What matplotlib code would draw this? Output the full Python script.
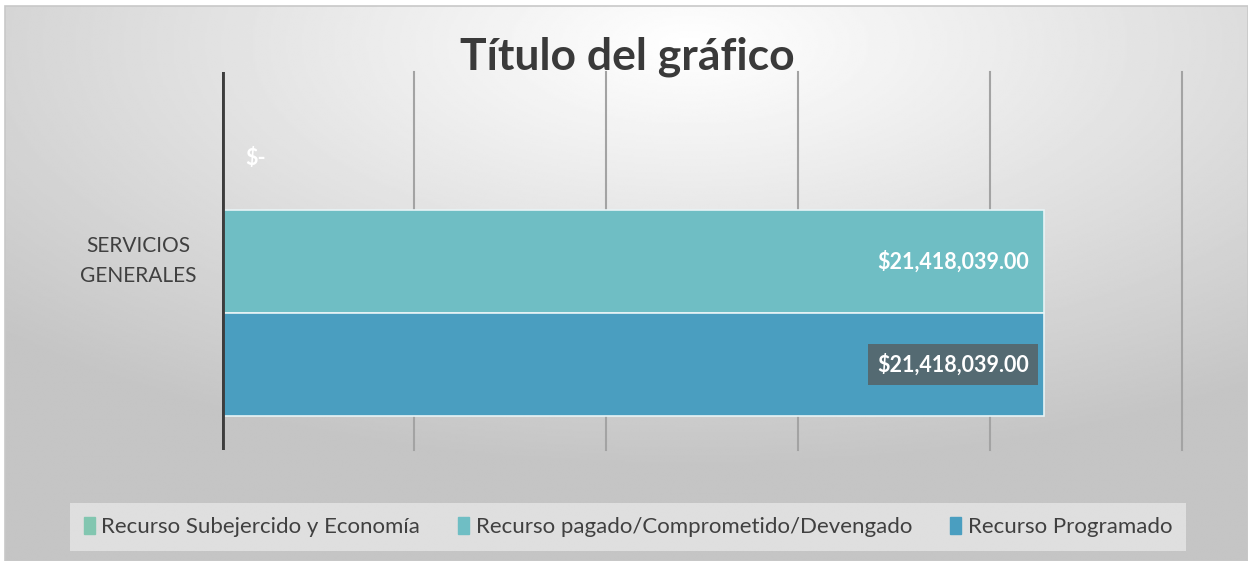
import matplotlib.pyplot as plt
import numpy as np
from matplotlib.patches import Rectangle

# data
category = 'SERVICIOS\nGENERALES'
series = ['Recurso Subejercido y Economía',
          'Recurso pagado/Comprometido/Devengado',
          'Recurso Programado']
values = [0, 21418039.00, 21418039.00]
labels = ['$-', '$21,418,039.00', '$21,418,039.00']
colors = ['#82c6b0', '#6fbec4', '#4a9ec0']

plt.rcParams['font.family'] = ['Lato', 'DejaVu Sans']

W, H = 1248, 561
fig = plt.figure(figsize=(W / 100, H / 100), dpi=100)
fig.patch.set_facecolor('white')

# radial grey background
bg = fig.add_axes([5 / W, 0, 1 - 5 / W, 1 - 6 / H], zorder=-10)
yy, xx = np.mgrid[0:300, 0:600]
d = np.sqrt(((xx - 330) / 600) ** 2 + ((yy - 20) / 300) ** 2)
shade = np.clip(1.0 - 0.30 * d, 0.77, 1.0)
bg.imshow(shade, cmap='gray', vmin=0, vmax=1, aspect='auto', interpolation='bilinear')
bg.set_axis_off()
fig.patches.append(Rectangle((5 / W, 0), 1 - 5 / W, 1 - 6 / H, transform=fig.transFigure,
                             fill=False, edgecolor='#c8c8c8', lw=1.2, zorder=-5))

# plot axes
x0, x1 = 222, 1182
y0, y1 = 72, 450
ax = fig.add_axes([x0 / W, 1 - y1 / H, (x1 - x0) / W, (y1 - y0) / H])
ax.patch.set_alpha(0)

pos = [2, 1, 0]
for p, v, c in zip(pos, values, colors):
    ax.barh(p, v, height=1.0, color=c, edgecolor='#e8f4f6', linewidth=1.2, zorder=2)

ax.set_xlim(0, 25000000)
ax.set_ylim(-0.83, 2.84)
for gx in [5e6, 10e6, 15e6, 20e6, 25e6]:
    ax.axvline(gx, color='#a3a3a3', lw=1.5, zorder=1, clip_on=False)
ax.axvline(0, color='#3d3d3d', lw=3.5, zorder=3)

for s in ax.spines.values():
    s.set_visible(False)
ax.set_xticks([])
ax.set_yticks([])

# data labels
ax.text(0.6e6, 2.0, labels[0], color='white', fontsize=15.5, fontweight='bold',
        ha='left', va='center', zorder=4)
ax.text(values[1] - 0.4e6, 1.0, labels[1], color='white', fontsize=15.5, fontweight='bold',
        ha='right', va='center', zorder=4)
ax.text(values[2] - 0.4e6, 0.0, labels[2], color='white', fontsize=15.5, fontweight='bold',
        ha='right', va='center', zorder=4,
        bbox=dict(boxstyle='square,pad=0.42', facecolor='#546a72', edgecolor='none'))

# category label
fig.text(138 / W, 1 - 261 / H, category, ha='center', va='center',
         fontsize=15, color='#404040', linespacing=1.6)

# title
fig.text(627 / W, 1 - 57 / H, 'Título del gráfico', ha='center', va='center',
         fontsize=32, fontweight='bold', color='#3a3a3a')

# legend
handles = [Rectangle((0, 0), 1, 1, color=c) for c in colors]
leg = fig.legend(handles, series, loc='center', bbox_to_anchor=(628 / W, 1 - 527 / H),
                 ncol=3, frameon=True, fontsize=16, handlelength=0.5, handleheight=0.85,
                 handletextpad=0.3, columnspacing=1.7, borderpad=0.6, fancybox=False)
leg.get_frame().set_facecolor('#e2e2e2')
leg.get_frame().set_edgecolor('none')
leg.get_frame().set_alpha(0.9)
for t in leg.get_texts():
    t.set_color('#404040')

fig.savefig('out.png', dpi=100)
